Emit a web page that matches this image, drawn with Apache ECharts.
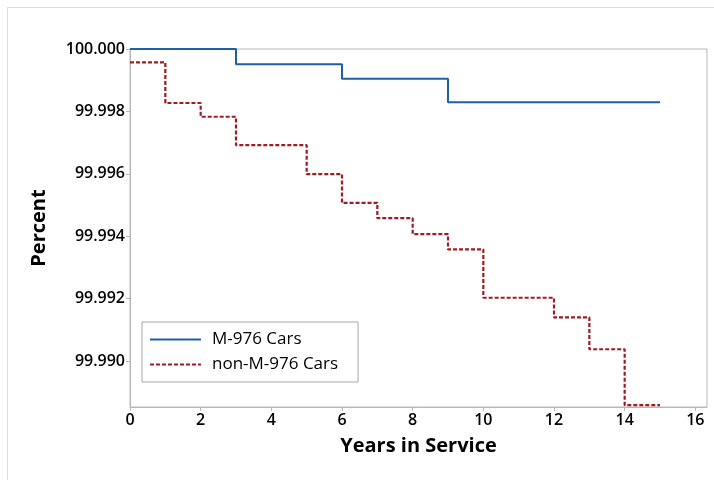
<!DOCTYPE html>
<html>
<head>
<meta charset="utf-8">
<script src="https://cdn.jsdelivr.net/npm/echarts@6/dist/echarts.min.js"></script>
<style>
html,body{margin:0;padding:0;background:#fff;}
#frame{position:absolute;left:7px;top:7px;width:720px;height:490px;border-left:1px solid #dcdcdc;border-top:1px solid #dcdcdc;}
#chart{position:absolute;left:0;top:0;width:714px;height:480px;}
</style>
</head>
<body>
<div id="frame"></div>
<div id="chart"></div>
<script>
// Data
const m976Years   = [0, 3, 6, 9, 15];
const m976Percent = [100.00000, 99.99951, 99.99905, 99.99829, 99.99829];
const nonYears    = [0, 1, 2, 3, 5, 6, 7, 8, 9, 10, 12, 13, 14, 15];
const nonPercent  = [99.99957, 99.99827, 99.99783, 99.99692, 99.99599, 99.99507, 99.99458,
                     99.99407, 99.99358, 99.99203, 99.99140, 99.99038, 99.98859, 99.98859];
const xTicks = [0, 2, 4, 6, 8, 10, 12, 14, 16];
const yTicks = [99.990, 99.992, 99.994, 99.996, 99.998, 100.000];
const seriesNames = ['M-976 Cars', 'non-M-976 Cars'];

const FONT = 'Open Sans';
const chart = echarts.init(document.getElementById('chart'));
chart.setOption({
  animation: false,
  textStyle: { fontFamily: FONT },
  grid: { left: 130, right: 7, top: 49, bottom: 73, show: true, borderColor: '#b8b8b8', borderWidth: 1 },
  legend: {
    orient: 'vertical', left: 142, top: 322,
    data: seriesNames,
    itemWidth: 51, itemHeight: 14, itemGap: 8,
    padding: [9, 20, 9, 7],
    borderColor: '#a8a8a8', borderWidth: 1,
    itemStyle: { opacity: 0 },
    textStyle: { fontFamily: FONT, fontSize: 17, color: '#000', padding: [0, 0, 0, 6] }
  },
  xAxis: {
    type: 'value', min: 0, max: 16.33,
    name: 'Years in Service', nameLocation: 'middle', nameGap: 29,
    nameTextStyle: { fontFamily: FONT, fontSize: 20, fontWeight: 'bold', color: '#000' },
    axisLine: { show: true, lineStyle: { color: '#b8b8b8' } },
    axisTick: { show: true, length: 4, lineStyle: { color: '#b8b8b8' }, customValues: xTicks },
    axisLabel: { fontFamily: FONT, fontSize: 16, fontWeight: 600, color: '#000', margin: 5, customValues: xTicks,
                 formatter: v => String(Math.round(v)) },
    splitLine: { show: false }
  },
  yAxis: {
    type: 'value', min: 99.98853, max: 100.0,
    name: 'Percent', nameLocation: 'middle', nameGap: 81, nameRotate: 90,
    nameTextStyle: { fontFamily: FONT, fontSize: 20, fontWeight: 'bold', color: '#000' },
    axisLine: { show: true, lineStyle: { color: '#b8b8b8' } },
    axisTick: { show: true, length: 4, lineStyle: { color: '#b8b8b8' }, customValues: yTicks },
    axisLabel: { fontFamily: FONT, fontSize: 16, fontWeight: 600, color: '#000', margin: 5, customValues: yTicks,
                 formatter: v => v.toFixed(3) },
    splitLine: { show: false }
  },
  series: [
    {
      name: seriesNames[0], type: 'line', step: 'end', symbol: 'none',
      data: m976Years.map((x, i) => [x, m976Percent[i]]),
      lineStyle: { color: '#1f5fa8', width: 2 }, itemStyle: { color: '#1f5fa8' }
    },
    {
      name: seriesNames[1], type: 'line', step: 'end', symbol: 'none',
      data: nonYears.map((x, i) => [x, nonPercent[i]]),
      lineStyle: { color: '#9e1c1f', width: 2.2, type: [4, 2] }, itemStyle: { color: '#9e1c1f' }
    }
  ]
});
</script>
</body>
</html>
